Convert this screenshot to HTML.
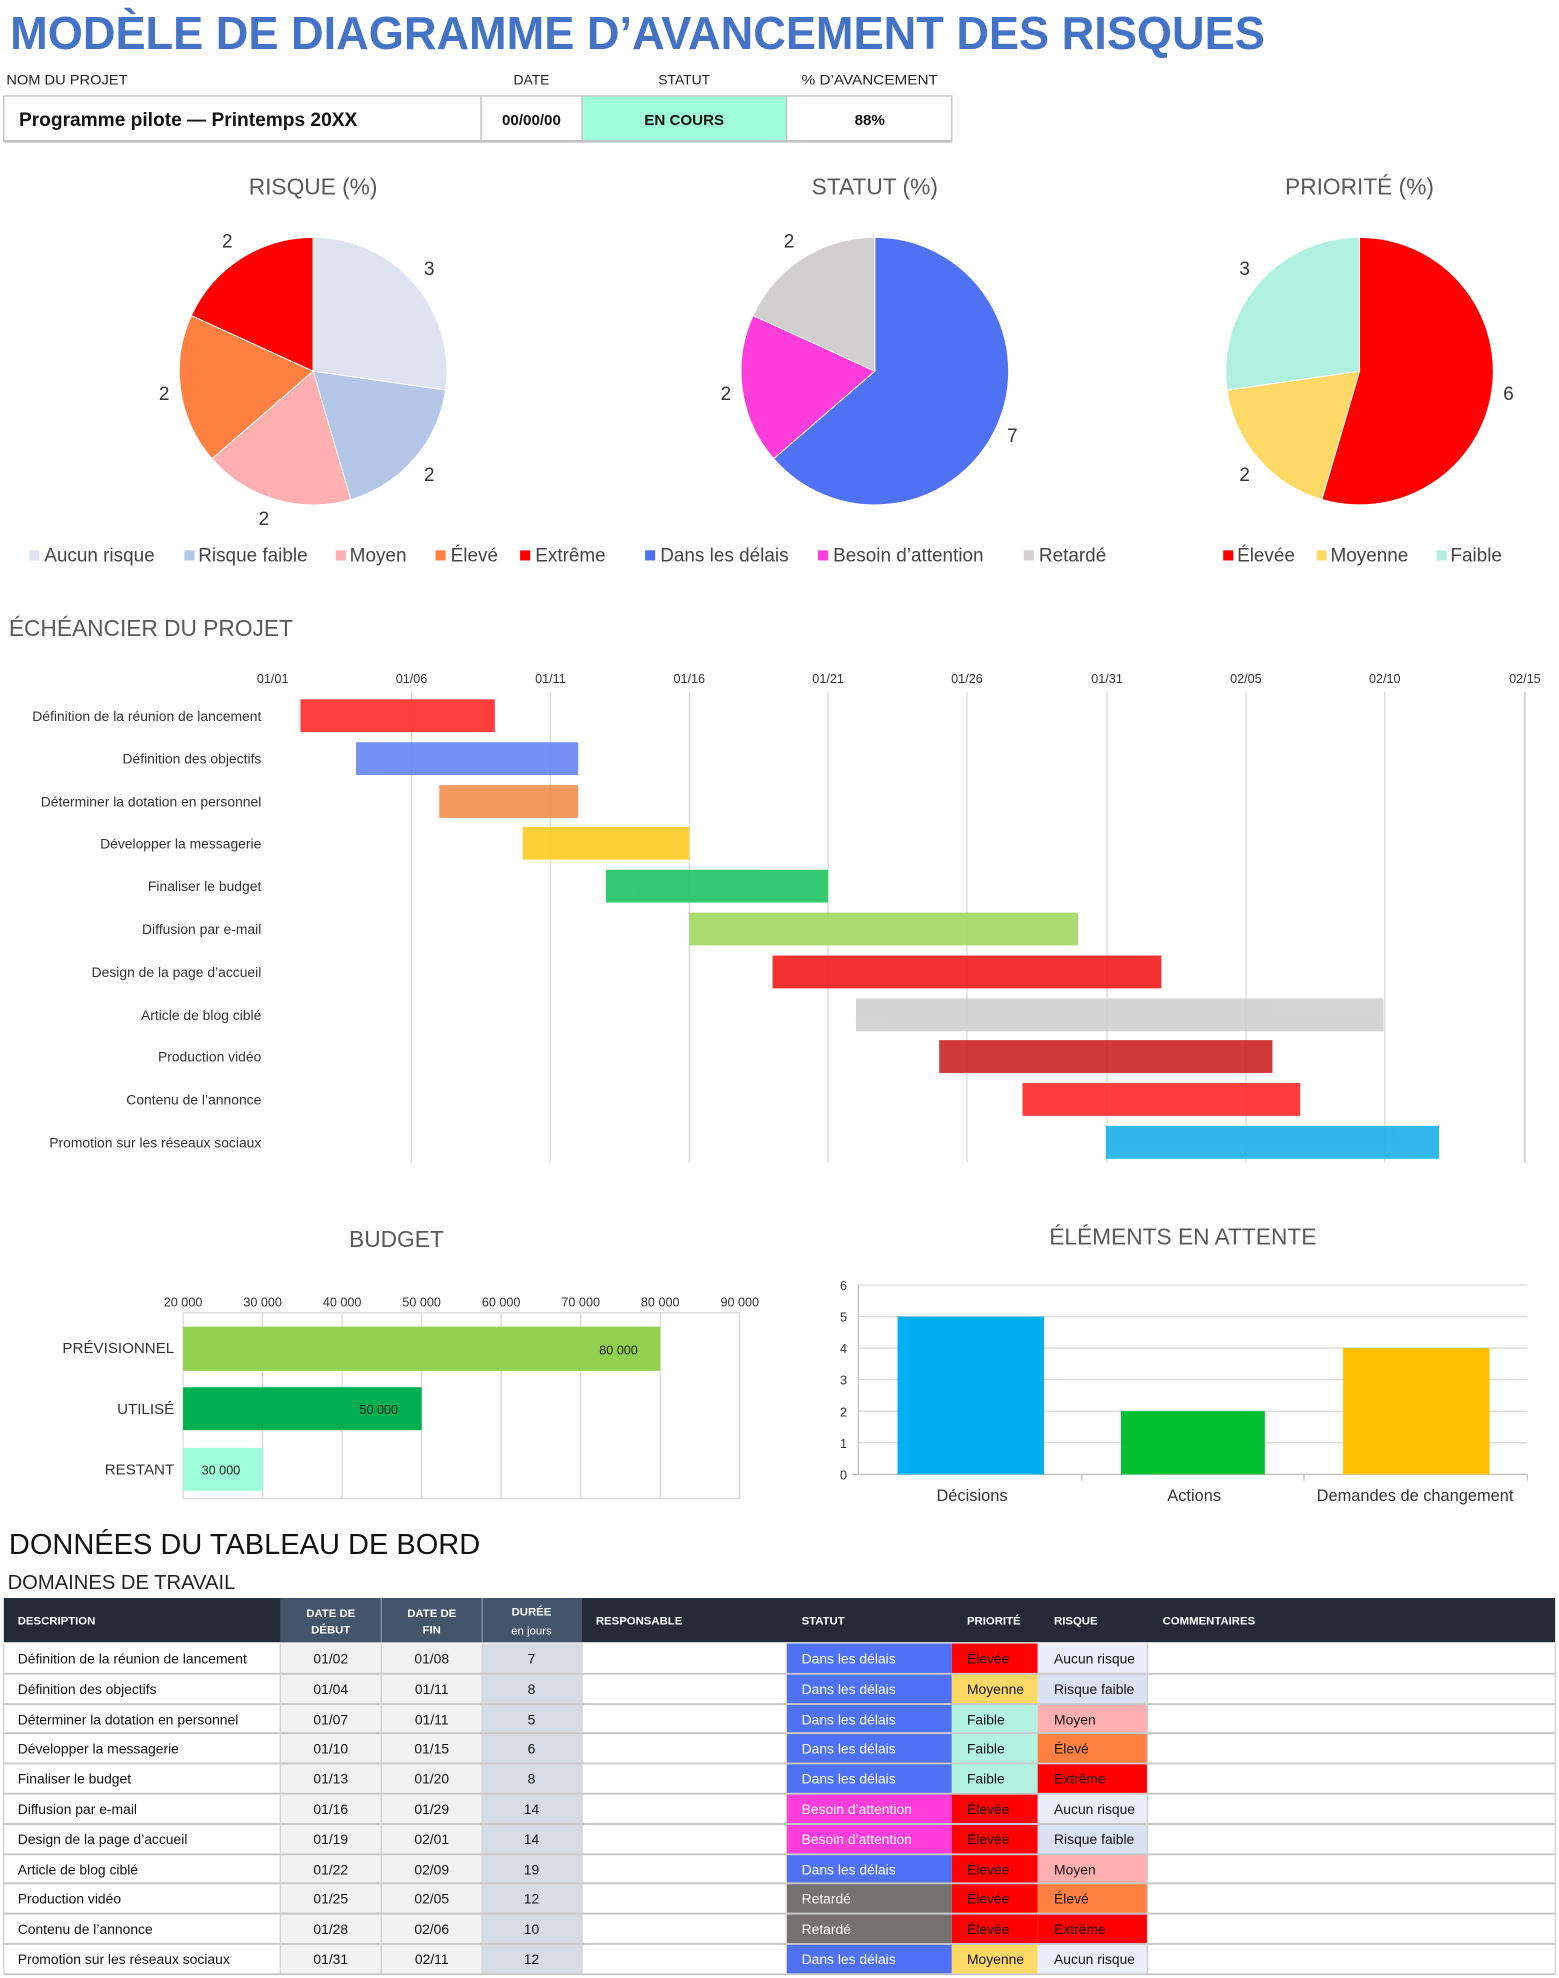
<!DOCTYPE html>
<html><head><meta charset="utf-8"><style>html,body{margin:0;padding:0;background:#fff}svg{display:block}</style></head><body>
<svg xmlns="http://www.w3.org/2000/svg" width="1559" height="1978" viewBox="0 0 1235 1567" font-family="Liberation Sans, DejaVu Sans, sans-serif">
<rect width="1235" height="1567" fill="#fff"/>
<text x="8" y="39" font-size="37" font-weight="bold" fill="#4472C4" textLength="994" lengthAdjust="spacingAndGlyphs">MODÈLE DE DIAGRAMME D’AVANCEMENT DES RISQUES</text>
<g font-size="11" fill="#222">
<text x="5" y="67" textLength="96" lengthAdjust="spacingAndGlyphs">NOM DU PROJET</text>
<text x="421" y="67" text-anchor="middle">DATE</text>
<text x="542" y="67" text-anchor="middle">STATUT</text>
<text x="689" y="67" text-anchor="middle" textLength="108" lengthAdjust="spacingAndGlyphs">% D’AVANCEMENT</text>
</g>
<rect x="461" y="76" width="162" height="36" fill="#9EFFD9"/>
<rect x="3" y="76" width="751" height="36" fill="none" stroke="#BFBFBF" stroke-width="1"/>
<line x1="3" y1="112" x2="754" y2="112" stroke="#BFBFBF" stroke-width="2"/>
<g stroke="#BFBFBF"><line x1="381" y1="76" x2="381" y2="112"/><line x1="461" y1="76" x2="461" y2="112"/><line x1="623" y1="76" x2="623" y2="112"/></g>
<g font-weight="bold" fill="#111">
<text x="15" y="100" font-size="15" textLength="268" lengthAdjust="spacingAndGlyphs">Programme pilote — Printemps 20XX</text>
<text x="421" y="99" font-size="12" text-anchor="middle">00/00/00</text>
<text x="542" y="99" font-size="12" text-anchor="middle">EN COURS</text>
<text x="689" y="99" font-size="12" text-anchor="middle">88%</text>
</g>
<!-- pies -->
<g font-size="18" fill="#595959" text-anchor="middle">
<text x="248" y="154">RISQUE (%)</text><text x="693" y="154">STATUT (%)</text><text x="1077" y="154">PRIORITÉ (%)</text>
</g>
<g stroke="#fff" stroke-width="0.8">
<path d="M248,294 L248,188 A106,106 0 0 1 352.9,309.1 Z" fill="#DDE3F0"/>
<path d="M248,294 L352.9,309.1 A106,106 0 0 1 277.9,395.7 Z" fill="#B4C6E7"/>
<path d="M248,294 L277.9,395.7 A106,106 0 0 1 167.9,363.4 Z" fill="#FFAFAF"/>
<path d="M248,294 L167.9,363.4 A106,106 0 0 1 151.6,250 Z" fill="#FF8040"/>
<path d="M248,294 L151.6,250 A106,106 0 0 1 248,188 Z" fill="#FF0000"/>
<path d="M693,294 L693,188 A106,106 0 1 1 612.9,363.4 Z" fill="#4F72F5"/>
<path d="M693,294 L612.9,363.4 A106,106 0 0 1 596.6,250 Z" fill="#FF3DDB"/>
<path d="M693,294 L596.6,250 A106,106 0 0 1 693,188 Z" fill="#D0CECE"/>
<path d="M1077,294 L1077,188 A106,106 0 1 1 1047.1,395.7 Z" fill="#FF0000"/>
<path d="M1077,294 L1047.1,395.7 A106,106 0 0 1 972.1,309.1 Z" fill="#FFD966"/>
<path d="M1077,294 L972.1,309.1 A106,106 0 0 1 1077,188 Z" fill="#B0F0E0"/>
</g>
<g font-size="15" fill="#333" text-anchor="middle">
<text x="340" y="218">3</text><text x="340" y="381">2</text><text x="209" y="416">2</text><text x="130" y="317">2</text><text x="180" y="196">2</text>
<text x="802" y="350">7</text><text x="575" y="317">2</text><text x="625" y="196">2</text>
<text x="1195" y="317">6</text><text x="986" y="381">2</text><text x="986" y="218">3</text>
</g>
<g font-size="15" fill="#444">
<rect x="23" y="436" width="8" height="8" fill="#DDE3F0"/><text x="35" y="445">Aucun risque</text>
<rect x="146" y="436" width="8" height="8" fill="#B4C6E7"/><text x="157" y="445">Risque faible</text>
<rect x="266" y="436" width="8" height="8" fill="#FFAFAF"/><text x="277" y="445">Moyen</text>
<rect x="345" y="436" width="8" height="8" fill="#FF8040"/><text x="357" y="445">Élevé</text>
<rect x="412" y="436" width="8" height="8" fill="#FF0000"/><text x="424" y="445">Extrême</text>
<rect x="511" y="436" width="8" height="8" fill="#4F72F5"/><text x="523" y="445">Dans les délais</text>
<rect x="648" y="436" width="8" height="8" fill="#FF3DDB"/><text x="660" y="445">Besoin d’attention</text>
<rect x="811" y="436" width="8" height="8" fill="#D0CECE"/><text x="823" y="445">Retardé</text>
<rect x="969" y="436" width="8" height="8" fill="#FF0000"/><text x="980" y="445">Élevée</text>
<rect x="1043" y="436" width="8" height="8" fill="#FFD966"/><text x="1054" y="445">Moyenne</text>
<rect x="1138" y="436" width="8" height="8" fill="#B0F0E0"/><text x="1149" y="445">Faible</text>
</g>
<!-- gantt -->
<text x="7" y="504" font-size="18" fill="#595959">ÉCHÉANCIER DU PROJET</text>
<g font-size="10" fill="#333" text-anchor="middle">
<text x="216" y="541">01/01</text><text x="326" y="541">01/06</text><text x="436" y="541">01/11</text><text x="546" y="541">01/16</text><text x="656" y="541">01/21</text><text x="766" y="541">01/26</text><text x="877" y="541">01/31</text><text x="987" y="541">02/05</text><text x="1097" y="541">02/10</text><text x="1208" y="541">02/15</text>
</g>
<g stroke="#D9D9D9">
<line x1="326" y1="548" x2="326" y2="921"/><line x1="436" y1="548" x2="436" y2="921"/><line x1="546" y1="548" x2="546" y2="921"/><line x1="656" y1="548" x2="656" y2="921"/><line x1="766" y1="548" x2="766" y2="921"/><line x1="877" y1="548" x2="877" y2="921"/><line x1="987" y1="548" x2="987" y2="921"/><line x1="1097" y1="548" x2="1097" y2="921"/>
<line x1="1208" y1="548" x2="1208" y2="921" stroke="#BFBFBF"/>
</g>
<g opacity="0.9">
<rect x="238" y="554" width="154" height="26" fill="#FF2A2A"/>
<rect x="282" y="588" width="176" height="26" fill="#6586F5"/>
<rect x="348" y="622" width="110" height="26" fill="#F28D4E"/>
<rect x="414" y="655" width="132" height="26" fill="#FFCC22"/>
<rect x="480" y="689" width="176" height="26" fill="#1EC464"/>
<rect x="546" y="723" width="308" height="26" fill="#A0D860"/>
<rect x="612" y="757" width="308" height="26" fill="#F41A1A"/>
<rect x="678" y="791" width="418" height="26" fill="#D0D0D0"/>
<rect x="744" y="824" width="264" height="26" fill="#CC2424"/>
<rect x="810" y="858" width="220" height="26" fill="#FF2828"/>
<rect x="876" y="892" width="264" height="26" fill="#1AB0E8"/>
</g>
<g font-size="11" fill="#333" text-anchor="end">
<text x="207" y="571">Définition de la réunion de lancement</text>
<text x="207" y="605">Définition des objectifs</text>
<text x="207" y="639">Déterminer la dotation en personnel</text>
<text x="207" y="672">Développer la messagerie</text>
<text x="207" y="706">Finaliser le budget</text>
<text x="207" y="740">Diffusion par e-mail</text>
<text x="207" y="774">Design de la page d’accueil</text>
<text x="207" y="808">Article de blog ciblé</text>
<text x="207" y="841">Production vidéo</text>
<text x="207" y="875">Contenu de l’annonce</text>
<text x="207" y="909">Promotion sur les réseaux sociaux</text>
</g>
<!-- budget -->
<text x="314" y="988" font-size="18" fill="#595959" text-anchor="middle">BUDGET</text>
<g font-size="10" fill="#333" text-anchor="middle">
<text x="145" y="1035">20 000</text><text x="208" y="1035">30 000</text><text x="271" y="1035">40 000</text><text x="334" y="1035">50 000</text><text x="397" y="1035">60 000</text><text x="460" y="1035">70 000</text><text x="523" y="1035">80 000</text><text x="586" y="1035">90 000</text>
</g>
<g stroke="#D9D9D9">
<line x1="208" y1="1040" x2="208" y2="1187"/><line x1="271" y1="1040" x2="271" y2="1187"/><line x1="334" y1="1040" x2="334" y2="1187"/><line x1="397" y1="1040" x2="397" y2="1187"/><line x1="460" y1="1040" x2="460" y2="1187"/><line x1="523" y1="1040" x2="523" y2="1187"/>
<rect x="145" y="1040" width="441" height="147" fill="none"/>
</g>
<rect x="145" y="1051" width="378" height="35" fill="#92D050"/>
<rect x="145" y="1099" width="189" height="34" fill="#00B050"/>
<rect x="145" y="1147" width="63" height="34" fill="#9EFFD9"/>
<g font-size="10" fill="#222" text-anchor="middle"><text x="490" y="1073">80 000</text><text x="300" y="1120">50 000</text><text x="175" y="1168">30 000</text></g>
<g font-size="12" fill="#333" text-anchor="end"><text x="138" y="1072">PRÉVISIONNEL</text><text x="138" y="1120">UTILISÉ</text><text x="138" y="1168">RESTANT</text></g>
<!-- pending -->
<text x="937" y="986" font-size="18" fill="#595959" text-anchor="middle">ÉLÉMENTS EN ATTENTE</text>
<g stroke="#D9D9D9">
<line x1="680" y1="1018" x2="1210" y2="1018"/><line x1="680" y1="1043" x2="1210" y2="1043"/><line x1="680" y1="1068" x2="1210" y2="1068"/><line x1="680" y1="1093" x2="1210" y2="1093"/><line x1="680" y1="1118" x2="1210" y2="1118"/><line x1="680" y1="1143" x2="1210" y2="1143"/>
<line x1="680" y1="1018" x2="680" y2="1168" stroke="#BFBFBF"/>
<line x1="675" y1="1168" x2="1210" y2="1168" stroke="#BFBFBF"/>
<line x1="857" y1="1168" x2="857" y2="1173" stroke="#BFBFBF"/><line x1="1033" y1="1168" x2="1033" y2="1173" stroke="#BFBFBF"/><line x1="1210" y1="1168" x2="1210" y2="1173" stroke="#BFBFBF"/>
</g>
<g font-size="10" fill="#333" text-anchor="end">
<text x="671" y="1172">0</text><text x="671" y="1147">1</text><text x="671" y="1122">2</text><text x="671" y="1097">3</text><text x="671" y="1072">4</text><text x="671" y="1047">5</text><text x="671" y="1022">6</text>
</g>
<rect x="711" y="1043" width="116" height="125" fill="#00B0F0"/>
<rect x="888" y="1118" width="114" height="50" fill="#00C030"/>
<rect x="1064" y="1068" width="116" height="100" fill="#FFC000"/>
<g font-size="13" fill="#333" text-anchor="middle"><text x="770" y="1189">Décisions</text><text x="946" y="1189">Actions</text><text x="1121" y="1189">Demandes de changement</text></g>
<!-- table -->
<text x="7" y="1231" font-size="23" fill="#111">DONNÉES DU TABLEAU DE BORD</text>
<text x="6" y="1259" font-size="16" fill="#222">DOMAINES DE TRAVAIL</text>
<rect x="3" y="1266" width="1229" height="35" fill="#222B36"/>
<rect x="222" y="1266" width="239" height="35" fill="#44546A"/>
<g stroke="#8C97A5"><line x1="302" y1="1266" x2="302" y2="1301"/><line x1="382" y1="1266" x2="382" y2="1301"/></g>
<g font-size="9" font-weight="bold" fill="#fff">
<text x="14" y="1287">DESCRIPTION</text>
<text x="262" y="1281" text-anchor="middle">DATE DE</text><text x="262" y="1294" text-anchor="middle">DÉBUT</text>
<text x="342" y="1281" text-anchor="middle">DATE DE</text><text x="342" y="1294" text-anchor="middle">FIN</text>
<text x="421" y="1280" text-anchor="middle">DURÉE</text><text x="421" y="1295" text-anchor="middle" font-weight="normal">en jours</text>
<text x="472" y="1287">RESPONSABLE</text><text x="635" y="1287">STATUT</text><text x="766" y="1287">PRIORITÉ</text><text x="835" y="1287">RISQUE</text><text x="921" y="1287">COMMENTAIRES</text>
</g>
<rect x="222" y="1302" width="160" height="262" fill="#F2F2F2"/>
<rect x="382" y="1302" width="79" height="262" fill="#D6DCE4"/>
<g>
<rect x="623" y="1302" width="131" height="24" fill="#4F72F5"/><rect x="623" y="1326" width="131" height="24" fill="#4F72F5"/><rect x="623" y="1350" width="131" height="24" fill="#4F72F5"/><rect x="623" y="1373" width="131" height="24" fill="#4F72F5"/><rect x="623" y="1397" width="131" height="24" fill="#4F72F5"/>
<rect x="623" y="1421" width="131" height="24" fill="#FF3DDB"/><rect x="623" y="1445" width="131" height="24" fill="#FF3DDB"/>
<rect x="623" y="1469" width="131" height="24" fill="#4F72F5"/>
<rect x="623" y="1492" width="131" height="24" fill="#767171"/><rect x="623" y="1516" width="131" height="24" fill="#767171"/>
<rect x="623" y="1540" width="131" height="24" fill="#4F72F5"/>
<rect x="754" y="1302" width="68" height="24" fill="#FF0000"/><rect x="754" y="1326" width="68" height="24" fill="#FFD966"/><rect x="754" y="1350" width="68" height="71" fill="#B3F2E1"/>
<rect x="754" y="1421" width="68" height="119" fill="#FF0000"/><rect x="754" y="1540" width="68" height="24" fill="#FFD966"/>
<rect x="822" y="1302" width="87" height="24" fill="#E9EEF8"/><rect x="822" y="1326" width="87" height="24" fill="#D9E1F2"/><rect x="822" y="1350" width="87" height="24" fill="#FFAFAF"/><rect x="822" y="1373" width="87" height="24" fill="#FF8040"/><rect x="822" y="1397" width="87" height="24" fill="#FF0000"/>
<rect x="822" y="1421" width="87" height="24" fill="#E9EEF8"/><rect x="822" y="1445" width="87" height="24" fill="#D9E1F2"/><rect x="822" y="1469" width="87" height="24" fill="#FFAFAF"/><rect x="822" y="1492" width="87" height="24" fill="#FF8040"/><rect x="822" y="1516" width="87" height="24" fill="#FF0000"/><rect x="822" y="1540" width="87" height="24" fill="#E9EEF8"/>
</g>
<g stroke="#C8C8C8" stroke-width="1.5">
<line x1="3" y1="1326" x2="1232" y2="1326"/><line x1="3" y1="1350" x2="1232" y2="1350"/><line x1="3" y1="1373" x2="1232" y2="1373"/><line x1="3" y1="1397" x2="1232" y2="1397"/><line x1="3" y1="1421" x2="1232" y2="1421"/><line x1="3" y1="1445" x2="1232" y2="1445"/><line x1="3" y1="1469" x2="1232" y2="1469"/><line x1="3" y1="1492" x2="1232" y2="1492"/><line x1="3" y1="1516" x2="1232" y2="1516"/><line x1="3" y1="1540" x2="1232" y2="1540"/><line x1="3" y1="1564" x2="1232" y2="1564"/>
</g>
<g stroke="#D0D0D0"><line x1="3" y1="1302" x2="3" y2="1564"/><line x1="222" y1="1302" x2="222" y2="1564"/><line x1="302" y1="1302" x2="302" y2="1564"/><line x1="382" y1="1302" x2="382" y2="1564"/><line x1="461" y1="1302" x2="461" y2="1564"/><line x1="623" y1="1302" x2="623" y2="1564"/><line x1="909" y1="1302" x2="909" y2="1564"/><line x1="1232" y1="1302" x2="1232" y2="1564"/></g>
<g font-size="11" fill="#111">
<text x="14" y="1318">Définition de la réunion de lancement</text><text x="14" y="1342">Définition des objectifs</text><text x="14" y="1366">Déterminer la dotation en personnel</text><text x="14" y="1389">Développer la messagerie</text><text x="14" y="1413">Finaliser le budget</text><text x="14" y="1437">Diffusion par e-mail</text><text x="14" y="1461">Design de la page d’accueil</text><text x="14" y="1485">Article de blog ciblé</text><text x="14" y="1508">Production vidéo</text><text x="14" y="1532">Contenu de l’annonce</text><text x="14" y="1556">Promotion sur les réseaux sociaux</text>
</g>
<g font-size="11" fill="#111" text-anchor="middle">
<text x="262" y="1318">01/02</text><text x="262" y="1342">01/04</text><text x="262" y="1366">01/07</text><text x="262" y="1389">01/10</text><text x="262" y="1413">01/13</text><text x="262" y="1437">01/16</text><text x="262" y="1461">01/19</text><text x="262" y="1485">01/22</text><text x="262" y="1508">01/25</text><text x="262" y="1532">01/28</text><text x="262" y="1556">01/31</text>
<text x="342" y="1318">01/08</text><text x="342" y="1342">01/11</text><text x="342" y="1366">01/11</text><text x="342" y="1389">01/15</text><text x="342" y="1413">01/20</text><text x="342" y="1437">01/29</text><text x="342" y="1461">02/01</text><text x="342" y="1485">02/09</text><text x="342" y="1508">02/05</text><text x="342" y="1532">02/06</text><text x="342" y="1556">02/11</text>
<text x="421" y="1318">7</text><text x="421" y="1342">8</text><text x="421" y="1366">5</text><text x="421" y="1389">6</text><text x="421" y="1413">8</text><text x="421" y="1437">14</text><text x="421" y="1461">14</text><text x="421" y="1485">19</text><text x="421" y="1508">12</text><text x="421" y="1532">10</text><text x="421" y="1556">12</text>
</g>
<g font-size="11" fill="#fff">
<text x="635" y="1318">Dans les délais</text><text x="635" y="1342">Dans les délais</text><text x="635" y="1366">Dans les délais</text><text x="635" y="1389">Dans les délais</text><text x="635" y="1413">Dans les délais</text><text x="635" y="1437">Besoin d’attention</text><text x="635" y="1461">Besoin d’attention</text><text x="635" y="1485">Dans les délais</text><text x="635" y="1508">Retardé</text><text x="635" y="1532">Retardé</text><text x="635" y="1556">Dans les délais</text>
</g>
<g font-size="11" fill="#111">
<text x="766" y="1318">Élevée</text><text x="766" y="1342">Moyenne</text><text x="766" y="1366">Faible</text><text x="766" y="1389">Faible</text><text x="766" y="1413">Faible</text><text x="766" y="1437">Élevée</text><text x="766" y="1461">Élevée</text><text x="766" y="1485">Élevée</text><text x="766" y="1508">Élevée</text><text x="766" y="1532">Élevée</text><text x="766" y="1556">Moyenne</text>
<text x="835" y="1318">Aucun risque</text><text x="835" y="1342">Risque faible</text><text x="835" y="1366">Moyen</text><text x="835" y="1389">Élevé</text><text x="835" y="1413">Extrême</text><text x="835" y="1437">Aucun risque</text><text x="835" y="1461">Risque faible</text><text x="835" y="1485">Moyen</text><text x="835" y="1508">Élevé</text><text x="835" y="1532">Extrême</text><text x="835" y="1556">Aucun risque</text>
</g>
</svg>
</body></html>
